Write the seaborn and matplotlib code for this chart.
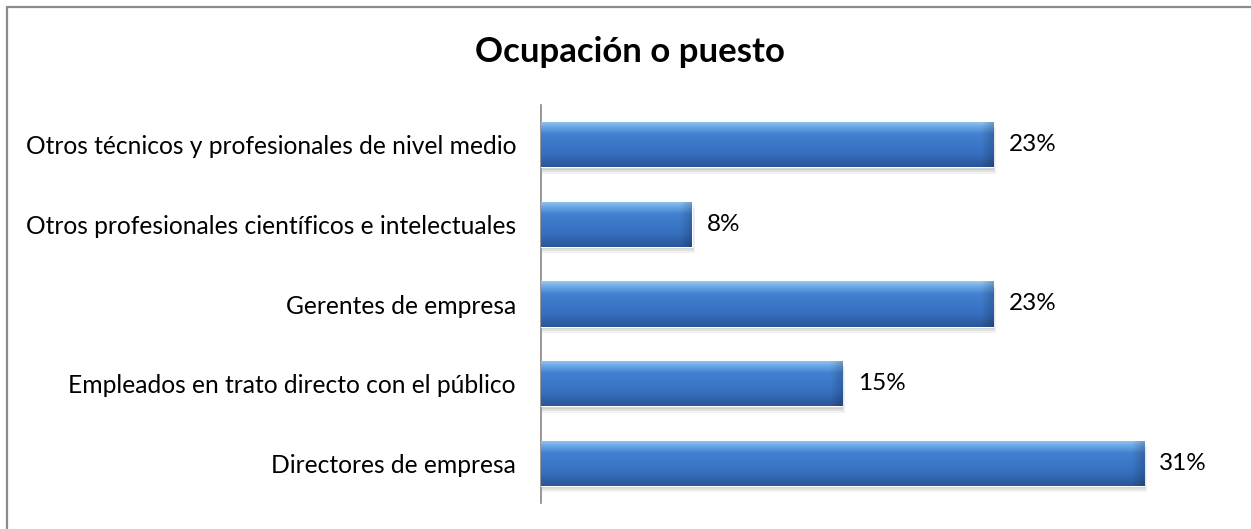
import numpy as np
import pandas as pd
import seaborn as sns
import matplotlib.pyplot as plt
from matplotlib.patches import Rectangle
from matplotlib.lines import Line2D

categories = [
    "Otros técnicos y profesionales de nivel medio",
    "Otros profesionales científicos e intelectuales",
    "Gerentes de empresa",
    "Empleados en trato directo con el público",
    "Directores de empresa",
]
values = [23.08, 7.69, 23.08, 15.38, 30.77]
value_labels = ["23%", "8%", "23%", "15%", "31%"]
title = "Ocupación o puesto"

sns.set_theme(style="white")
plt.rcParams['font.family'] = ['Lato', 'DejaVu Sans']

W, H = 1251, 529
fig = plt.figure(figsize=(W / 100, H / 100), dpi=100)
fig.patch.set_facecolor("white")
ax = fig.add_axes([541 / W, 1 - 503 / H, (1227 - 541) / W, (503 - 105) / H])

df = pd.DataFrame({"cat": categories, "val": values})
sns.barplot(data=df, x="val", y="cat", orient="h", color="#3D78C6",
            width=0.57, ax=ax, zorder=3)
ax.set_xlim(0, 35)

# vertical gradient (top light, bottom dark)
stops = np.array([
    [0.00, 150, 200, 242],
    [0.10, 112, 172, 232],
    [0.28, 66, 128, 208],
    [0.70, 55, 112, 192],
    [1.00, 42, 86, 150],
])
t = np.linspace(0, 1, 64)
vert = np.stack([np.interp(t, stops[:, 0], stops[:, i]) for i in (1, 2, 3)], axis=-1) / 255.0

for p, lab in zip(ax.patches, value_labels):
    x0, y0 = p.get_x(), p.get_y()
    w, h = p.get_width(), p.get_height()
    # soft shadow
    for k, a in enumerate([0.09, 0.07, 0.05]):
        off = 0.03 + 0.025 * k
        ax.add_patch(Rectangle((x0 + 0.05, y0 + off), w + 0.05 * k, h,
                               facecolor="black", alpha=a, edgecolor="none", zorder=2))
    # horizontal bevel darkening near the right end
    nx = 200
    xs = np.linspace(0, w, nx)
    edge = np.clip((xs - (w - 0.6)) / 0.6, 0, 1) * 0.18
    img = vert[:, None, :] * (1 - edge[None, :, None])
    im = ax.imshow(img, extent=(x0, x0 + w, y0 + h, y0), origin="upper",
                   aspect="auto", zorder=4, interpolation="bilinear")
    im.set_clip_path(p)
    ax.annotate(lab, xy=(x0 + w, y0 + h / 2), xytext=(11, 0), textcoords="offset points",
                ha="left", va="center", fontsize=17.5, color="black")

ax.set_xlim(0, 35)
ax.set_ylim(4.5, -0.5)
ax.set_xlabel("")
ax.set_ylabel("")
ax.set_xticks([])
ax.tick_params(axis="y", length=0, pad=18, labelsize=17.7, labelcolor="black")
for s in ["top", "right", "bottom"]:
    ax.spines[s].set_visible(False)
ax.spines["left"].set_color("#868686")
ax.spines["left"].set_linewidth(1.2)
ax.set_facecolor("none")

fig.text(630 / W, 1 - 52 / H, title, ha="center", va="center",
         fontsize=25, fontweight="bold", color="black")

# outer chart frame (left and top visible)
fig.add_artist(Line2D([6.5 / W, 6.5 / W], [0, 1 - 6.5 / H], transform=fig.transFigure,
                      color="#8C8C8C", linewidth=1.6))
fig.add_artist(Line2D([6.5 / W, 1], [1 - 6.5 / H, 1 - 6.5 / H], transform=fig.transFigure,
                      color="#8C8C8C", linewidth=1.6))

fig.savefig("out.png", dpi=100)
